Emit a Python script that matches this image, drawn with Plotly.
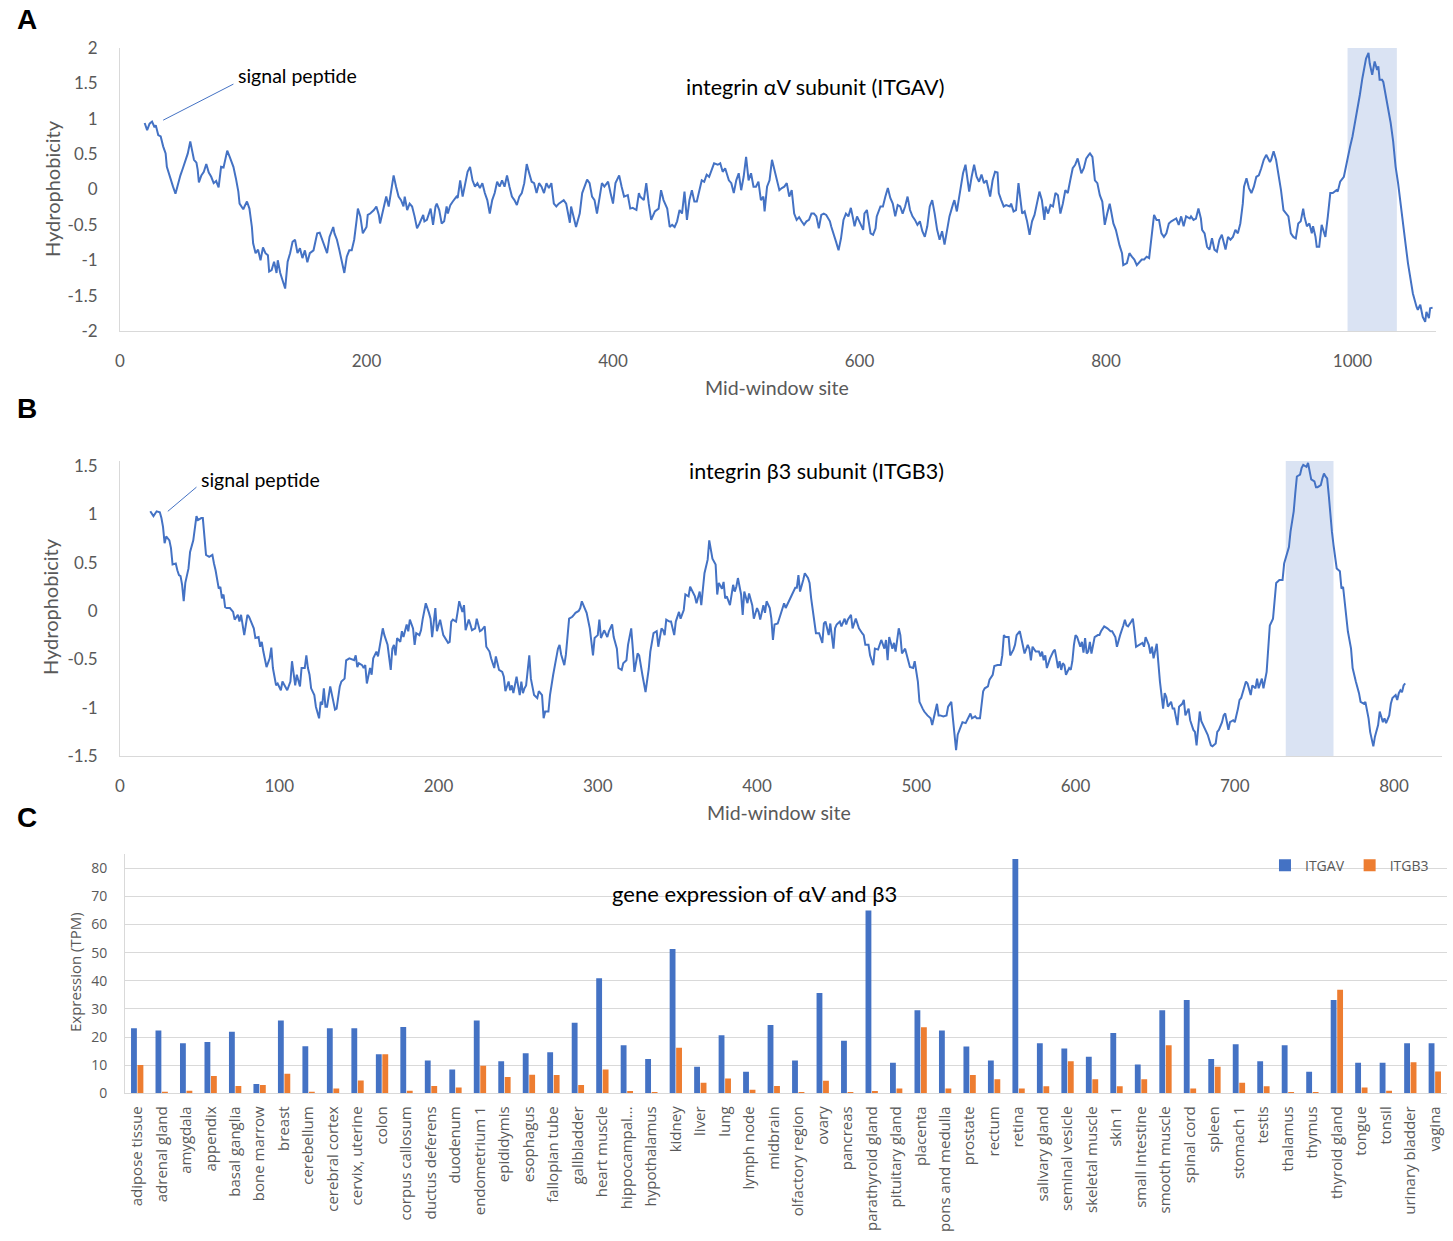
import plotly.graph_objects as go

W, H = 1453, 1241

# ---- Panel A: ITGAV hydrophobicity (mid-window site, value) ----
itgav_profile = [
    (20, 0.94), (22, 0.84), (24, 0.93), (26, 0.96), (28, 0.88), (29, 0.91), (31, 0.77), (33, 0.75),
    (35, 0.61), (37, 0.51), (38, 0.32), (41, 0.13), (43, 0.04), (45, -0.06), (47, 0.09), (49, 0.20),
    (51, 0.30), (54, 0.46), (55, 0.51), (57, 0.68), (60, 0.42), (62, 0.38), (63, 0.28), (64, 0.10),
    (66, 0.20), (68, 0.25), (70, 0.36), (72, 0.24), (74, 0.18), (76, 0.09), (78, 0.12), (80, 0.03),
    (82, 0.32), (84, 0.31), (87, 0.55), (89, 0.46), (92, 0.32), (94, 0.16), (96, -0.03), (97, -0.20),
    (100, -0.28), (101, -0.24), (103, -0.17), (105, -0.27), (107, -0.53), (108, -0.76), (110, -0.90),
    (112, -0.85), (114, -1.00), (116, -0.82), (118, -0.90), (120, -0.93), (121, -1.16), (123, -1.14),
    (125, -1.02), (127, -1.18), (128, -1.00), (130, -1.18), (132, -1.28), (134, -1.40), (136, -1.02),
    (138, -0.90), (140, -0.74), (142, -0.71), (144, -0.90), (146, -0.83), (148, -0.97), (150, -0.86),
    (152, -1.03), (154, -0.90), (157, -0.86), (160, -0.62), (162, -0.61), (164, -0.71), (166, -0.81),
    (168, -0.90), (170, -0.67), (173, -0.53), (174, -0.62), (176, -0.71), (178, -0.86), (180, -1.04),
    (182, -1.18), (184, -0.95), (186, -0.86), (188, -0.86), (190, -0.71), (192, -0.43), (193, -0.27),
    (195, -0.38), (197, -0.62), (200, -0.53), (201, -0.36), (203, -0.34), (206, -0.29), (208, -0.24),
    (210, -0.36), (211, -0.48), (214, -0.27), (216, -0.10), (218, -0.24), (220, -0.03), (222, 0.20),
    (224, 0.04), (226, -0.10), (228, -0.15), (230, -0.24), (231, -0.10), (233, -0.29), (235, -0.20),
    (237, -0.24), (239, -0.38), (241, -0.55), (243, -0.48), (246, -0.36), (247, -0.45), (249, -0.43),
    (252, -0.27), (254, -0.50), (256, -0.24), (257, -0.20), (259, -0.29), (261, -0.48), (263, -0.45),
    (265, -0.24), (266, -0.34), (268, -0.22), (270, -0.17), (273, -0.10), (274, -0.12), (276, 0.13),
    (278, -0.10), (280, 0.09), (282, 0.25), (284, 0.32), (286, 0.13), (288, 0.04), (290, 0.09),
    (292, 0.02), (294, 0.09), (296, -0.05), (298, -0.15), (300, -0.34), (302, -0.15), (304, -0.05),
    (306, 0.11), (308, 0.04), (310, 0.13), (312, 0.04), (314, 0.20), (316, 0.04), (318, -0.10),
    (320, -0.15), (322, -0.22), (324, -0.10), (326, -0.05), (328, 0.09), (330, 0.36), (332, 0.23),
    (334, 0.11), (336, 0.09), (338, -0.05), (340, 0.09), (342, 0.04), (344, -0.05), (346, 0.09),
    (348, 0.02), (350, 0.09), (352, -0.20), (354, -0.24), (356, -0.20),
    (360, -0.15), (362, -0.20), (365, -0.47), (366, -0.24), (368, -0.38), (370, -0.53), (373, -0.34),
    (375, -0.05), (379, 0.14), (381, 0.09), (383, -0.10), (385, -0.15), (387, -0.34), (389, -0.10),
    (391, 0.09), (393, 0.04), (396, 0.11), (398, -0.05), (400, -0.20), (402, 0.09), (405, 0.20),
    (407, 0.04), (409, -0.10), (412, -0.08), (414, -0.27), (416, -0.26), (419, -0.29), (421, -0.05),
    (422, -0.10), (425, -0.15), (427, 0.09), (429, -0.20), (431, -0.43), (434, -0.31), (437, -0.27),
    (439, -0.01), (441, -0.15), (444, -0.27), (446, -0.53), (448, -0.50), (450, -0.53), (452, -0.45),
    (454, -0.29), (456, -0.34), (458, -0.03), (460, -0.43), (462, -0.15), (464, -0.01), (466, -0.17),
    (468, -0.17), (470, -0.01), (472, 0.13), (474, 0.11), (476, 0.21), (478, 0.18), (480, 0.27),
    (482, 0.37), (485, 0.35), (487, 0.37), (489, 0.25), (491, 0.30), (494, 0.13), (496, 0.09),
    (498, -0.05), (500, 0.13), (502, 0.23), (504, -0.01), (506, 0.18), (508, 0.46), (510, 0.13),
    (512, 0.23), (514, 0.04), (516, 0.04), (518, 0.11), (520, -0.15), (522, -0.10), (523, -0.31),
    (525, 0.04), (527, 0.13), (529, 0.42), (531, 0.28), (533, 0.13), (535, -0.01), (537, 0.02),
    (539, 0.04), (541, 0.09), (543, -0.10), (545, -0.01), (547, -0.34), (549, -0.43), (551, -0.39),
    (553, -0.45), (555, -0.50), (557, -0.45), (559, -0.43), (561, -0.34), (563, -0.34), (565, -0.38),
    (567, -0.55), (569, -0.36), (571, -0.34), (573, -0.36), (576, -0.45), (577, -0.52), (579, -0.62),
    (581, -0.74), (583, -0.86), (585, -0.69), (587, -0.43), (589, -0.34), (591, -0.38), (593, -0.26),
    (595, -0.43), (596, -0.52), (598, -0.38), (600, -0.45), (603, -0.57), (604, -0.34), (606, -0.29),
    (609, -0.62), (611, -0.64), (613, -0.55), (614, -0.38), (617, -0.24), (619, -0.24), (621, -0.10),
    (623, 0.02), (625, -0.12), (627, -0.20), (629, -0.38), (631, -0.22), (633, -0.24), (635, -0.34),
    (637, -0.24), (639, -0.10), (641, -0.29), (643, -0.38), (645, -0.43), (647, -0.50), (649, -0.45),
    (651, -0.59), (653, -0.67), (655, -0.52), (657, -0.24), (659, -0.15), (661, -0.34), (663, -0.57),
    (665, -0.71), (667, -0.59), (669, -0.78), (671, -0.57), (673, -0.38), (676, -0.20), (677, -0.15),
    (679, -0.31), (682, 0.01), (684, 0.23), (686, 0.35), (687, 0.23), (689, -0.03), (691, 0.18),
    (693, 0.35), (695, 0.18), (697, 0.11), (699, 0.21), (701, 0.09), (703, 0.13), (705, -0.03),
    (706, -0.10), (708, 0.13), (710, 0.25), (712, 0.24), (713, -0.05), (715, -0.15), (717, -0.24),
    (719, -0.22), (722, -0.24), (723, -0.20), (725, -0.31), (727, -0.29), (729, 0.09), (731, -0.20),
    (732, -0.34), (734, -0.31), (736, -0.45), (738, -0.64), (740, -0.45), (742, -0.36), (744, -0.20),
    (746, -0.03), (748, -0.15), (750, -0.43), (751, -0.24), (753, -0.34), (755, -0.22), (757, -0.24),
    (759, -0.05), (761, -0.08), (763, -0.34), (765, -0.20), (767, -0.01), (769, -0.05), (771, 0.13),
    (773, 0.30), (775, 0.35), (777, 0.44), (778, 0.37), (780, 0.23), (782, 0.30), (784, 0.44),
    (786, 0.49), (787, 0.51), (789, 0.46), (791, 0.13), (793, 0.09), (795, -0.08), (797, -0.17),
    (799, -0.50), (801, -0.34), (803, -0.20), (804, -0.29), (806, -0.48), (808, -0.57), (810, -0.74),
    (811, -0.79), (813, -0.90), (814, -1.07), (817, -1.04), (819, -0.90), (821, -0.95), (823, -0.99),
    (825, -1.07), (827, -1.03), (829, -0.99), (831, -0.99), (833, -0.95), (835, -0.97), (837, -0.67),
    (839, -0.36), (841, -0.43), (843, -0.43), (845, -0.62), (847, -0.67), (849, -0.62), (851, -0.48),
    (853, -0.45), (855, -0.43), (857, -0.41), (859, -0.50), (861, -0.38), (863, -0.52), (865, -0.38),
    (868, -0.41), (869, -0.38), (871, -0.43), (873, -0.41), (875, -0.27), (877, -0.41), (878, -0.57),
    (880, -0.62), (882, -0.81), (884, -0.85), (886, -0.69), (888, -0.85), (890, -0.88), (892, -0.71),
    (894, -0.64), (896, -0.76), (897, -0.85), (899, -0.67), (901, -0.71), (903, -0.67), (905, -0.57),
    (907, -0.62), (909, -0.48), (911, -0.20), (912, 0.04), (914, 0.16), (916, 0.02), (918, -0.05),
    (920, 0.04), (922, 0.18), (924, 0.20), (926, 0.30), (928, 0.42), (930, 0.49), (933, 0.39),
    (934, 0.42), (936, 0.54), (938, 0.42), (940, 0.23), (942, -0.01), (944, -0.29), (946, -0.34),
    (948, -0.38), (950, -0.62), (952, -0.67), (954, -0.69), (956, -0.48), (958, -0.45), (960, -0.27),
    (961, -0.38), (963, -0.52), (965, -0.48), (967, -0.62), (968, -0.52), (970, -0.67), (971, -0.81),
    (973, -0.81), (975, -0.50), (977, -0.64), (978, -0.67), (980, -0.38), (982, -0.05), (984, -0.05),
    (987, -0.01), (988, -0.03), (990, 0.11), (993, 0.18), (994, 0.27), (996, 0.42), (998, 0.60),
    (1000, 0.75), (1002, 0.94), (1004, 1.15), (1006, 1.34), (1008, 1.57), (1010, 1.76), (1011, 1.85),
    (1013, 1.93), (1014, 1.78), (1016, 1.62), (1017, 1.74), (1018, 1.81), (1020, 1.69), (1021, 1.74),
    (1022, 1.55), (1024, 1.55), (1025, 1.52), (1027, 1.34), (1029, 1.15), (1031, 0.94), (1033, 0.68),
    (1035, 0.32), (1037, 0.09), (1039, -0.17), (1041, -0.45), (1043, -0.76), (1045, -1.04),
    (1047, -1.23), (1049, -1.47), (1052, -1.66), (1053, -1.70), (1055, -1.63), (1056, -1.70),
    (1057, -1.80), (1059, -1.87), (1060, -1.73), (1062, -1.82), (1063, -1.68), (1065, -1.67),
]
itgav_tm = (996, 1036)

# ---- Panel B: ITGB3 hydrophobicity ----
itgb3_profile = [
    (19, 1.03), (21, 0.98), (23, 1.03), (25, 1.02), (26, 0.96), (27, 0.87), (28, 0.70), (29, 0.77),
    (31, 0.73), (32, 0.65), (33, 0.48), (35, 0.49), (36, 0.42), (37, 0.37), (38, 0.36), (39, 0.27),
    (40, 0.10), (41, 0.29), (43, 0.44), (44, 0.61), (46, 0.73), (48, 0.98), (49, 0.94), (51, 0.96),
    (52, 0.96), (53, 0.75), (54, 0.58), (56, 0.56), (58, 0.58), (59, 0.49), (60, 0.42), (62, 0.23),
    (63, 0.25), (64, 0.13), (65, 0.17), (66, 0.04), (67, 0.03), (69, 0.03), (71, -0.01), (72, -0.09),
    (74, -0.04), (75, -0.11), (76, -0.04), (78, -0.25), (80, -0.04), (81, -0.06), (83, -0.14),
    (84, -0.18), (85, -0.28), (87, -0.27), (88, -0.37), (89, -0.32), (90, -0.42), (92, -0.58),
    (94, -0.49), (95, -0.38), (96, -0.59), (98, -0.77), (99, -0.75), (101, -0.82), (102, -0.73),
    (104, -0.80), (105, -0.82), (107, -0.73), (108, -0.52), (110, -0.77), (111, -0.66), (113, -0.78),
    (114, -0.59), (116, -0.59), (117, -0.46), (118, -0.59), (119, -0.66), (120, -0.80), (122, -0.87),
    (123, -0.99), (125, -1.11), (126, -0.94), (127, -0.97), (128, -0.80), (129, -0.99), (130, -0.99),
    (131, -0.87), (132, -0.78), (134, -0.94), (135, -1.02), (136, -1.01), (138, -0.78), (139, -0.73),
    (141, -0.70), (142, -0.51), (144, -0.49), (147, -0.51), (148, -0.46), (149, -0.58), (150, -0.54),
    (152, -0.56), (153, -0.59), (154, -0.56), (155, -0.75), (157, -0.59), (158, -0.66), (159, -0.49),
    (161, -0.42), (162, -0.47), (164, -0.27), (165, -0.18), (166, -0.25), (168, -0.35), (170, -0.61),
    (171, -0.39), (172, -0.35), (173, -0.46), (174, -0.28), (176, -0.32), (177, -0.21), (178, -0.27),
    (180, -0.14), (181, -0.21), (182, -0.09), (184, -0.18), (185, -0.35), (186, -0.23), (188, -0.25),
    (189, -0.20), (190, -0.09), (192, 0.08), (194, -0.02), (195, -0.08), (196, -0.27), (198, 0.03),
    (199, -0.21), (200, -0.14), (201, -0.09), (203, -0.25), (204, -0.28), (206, -0.33), (207, -0.32),
    (208, -0.11), (209, -0.09), (211, -0.11), (212, -0.01), (213, 0.10), (215, -0.01), (216, 0.06),
    (217, -0.20), (219, -0.09), (220, -0.14), (221, -0.20), (223, -0.18), (224, -0.08), (226, -0.21),
    (227, -0.20), (229, -0.16), (230, -0.37), (232, -0.42), (233, -0.49), (235, -0.59), (236, -0.47),
    (238, -0.61), (240, -0.63), (241, -0.68), (242, -0.83), (244, -0.73), (245, -0.82), (246, -0.77),
    (247, -0.85), (249, -0.68), (250, -0.80), (251, -0.87), (252, -0.73), (253, -0.85), (254, -0.80),
    (255, -0.77), (257, -0.46), (258, -0.70), (260, -0.87), (262, -0.90), (263, -0.83), (265, -0.87),
    (266, -1.11), (267, -1.04), (269, -1.04), (270, -0.87), (272, -0.66), (273, -0.56), (275, -0.39),
    (276, -0.35), (277, -0.45), (279, -0.56), (280, -0.45), (282, -0.08), (284, -0.06), (285, -0.04),
    (286, -0.02), (288, 0.00), (289, 0.03), (290, 0.10), (292, 0.01), (293, -0.02), (295, -0.18),
    (297, -0.46), (298, -0.28), (300, -0.25), (301, -0.09), (302, -0.28), (304, -0.20), (306, -0.27),
    (307, -0.21), (309, -0.14), (310, -0.27), (312, -0.39), (313, -0.59), (315, -0.61), (316, -0.54),
    (318, -0.51), (319, -0.35), (321, -0.18), (322, -0.39), (323, -0.63), (325, -0.44), (326, -0.46),
    (328, -0.66), (329, -0.77), (330, -0.84), (332, -0.60), (333, -0.42), (335, -0.23), (337, -0.21),
    (338, -0.37), (340, -0.18), (341, -0.20), (342, -0.25), (343, -0.09), (345, -0.11), (346, -0.11),
    (348, -0.25), (349, -0.11), (351, -0.01), (352, -0.08), (354, 0.01), (355, 0.17), (357, 0.15),
    (358, 0.25), (360, 0.17), (361, 0.15), (362, 0.08), (364, 0.20), (365, 0.06), (366, 0.22),
    (367, 0.39), (369, 0.53), (370, 0.73), (372, 0.54), (374, 0.48), (375, 0.17), (376, 0.29),
    (378, 0.23), (379, 0.30), (380, 0.13), (381, 0.15), (383, 0.06), (385, 0.27), (386, 0.20),
    (387, 0.25), (388, 0.34), (390, 0.17), (391, -0.04), (392, 0.20), (394, 0.08), (395, 0.18),
    (397, 0.06), (398, -0.08), (400, 0.03), (401, -0.01), (402, -0.09), (404, 0.06), (405, -0.02),
    (406, 0.10), (408, 0.03), (409, -0.08), (410, -0.30), (411, -0.14), (413, -0.13), (414, -0.08),
    (415, -0.01), (417, 0.08), (418, 0.03), (420, 0.11), (421, 0.15), (422, 0.17), (424, 0.24),
    (425, 0.24), (426, 0.37), (427, 0.20), (429, 0.32), (430, 0.39), (432, 0.34), (433, 0.29),
    (434, 0.13), (436, -0.08), (437, -0.23), (439, -0.23), (441, -0.33), (442, -0.13), (443, -0.11),
    (445, -0.25), (446, -0.13), (448, -0.39), (449, -0.18), (450, -0.14), (452, -0.11), (453, -0.16),
    (455, -0.08), (456, -0.14), (457, -0.09), (459, -0.04), (460, -0.18), (462, -0.08), (463, -0.13),
    (464, -0.18), (466, -0.23), (467, -0.25), (468, -0.35), (470, -0.35), (471, -0.46), (473, -0.56),
    (474, -0.39), (476, -0.40), (477, -0.35), (478, -0.30), (480, -0.39), (481, -0.30), (482, -0.51),
    (483, -0.27), (485, -0.39), (486, -0.33), (487, -0.42), (489, -0.18), (490, -0.25), (491, -0.44),
    (493, -0.39), (494, -0.46), (496, -0.58), (498, -0.59), (499, -0.52), (501, -0.73), (502, -0.94),
    (504, -1.01), (505, -1.04), (507, -1.08), (509, -1.11), (510, -1.18), (512, -1.01), (513, -0.96),
    (514, -1.08), (515, -1.08), (517, -1.09), (519, -1.08), (520, -0.99), (522, -0.94), (523, -1.11),
    (524, -1.25), (525, -1.44), (526, -1.28), (528, -1.18), (529, -1.15), (531, -1.16), (533, -1.09),
    (534, -1.06), (535, -1.11), (537, -1.09), (538, -1.11), (540, -1.11), (542, -0.83), (543, -0.80),
    (545, -0.78), (546, -0.71), (548, -0.66), (549, -0.57), (551, -0.56), (553, -0.56), (554, -0.46),
    (555, -0.25), (556, -0.27), (558, -0.27), (559, -0.46), (561, -0.40), (562, -0.35), (563, -0.25),
    (565, -0.21), (566, -0.28), (567, -0.37), (568, -0.44), (570, -0.35), (571, -0.39), (572, -0.51),
    (573, -0.37), (575, -0.42), (577, -0.42), (578, -0.47), (579, -0.42), (580, -0.51), (581, -0.46),
    (582, -0.59), (583, -0.53), (584, -0.49), (586, -0.42), (587, -0.40), (588, -0.49), (589, -0.59),
    (590, -0.52), (591, -0.61), (592, -0.54), (593, -0.56), (594, -0.66), (596, -0.59), (597, -0.61),
    (598, -0.52), (599, -0.35), (600, -0.25), (601, -0.27), (602, -0.32), (603, -0.37), (604, -0.32),
    (605, -0.43), (606, -0.28), (607, -0.44), (608, -0.42), (609, -0.32), (610, -0.44), (611, -0.35),
    (612, -0.27), (614, -0.25), (615, -0.25), (616, -0.21), (617, -0.18), (618, -0.16), (620, -0.18),
    (622, -0.21), (623, -0.21), (625, -0.27), (626, -0.37), (627, -0.30), (628, -0.25), (630, -0.15),
    (631, -0.09), (632, -0.15), (633, -0.16), (635, -0.11), (636, -0.08), (637, -0.21), (638, -0.37),
    (640, -0.35), (642, -0.33), (643, -0.37), (644, -0.27), (646, -0.35), (647, -0.44), (648, -0.37),
    (649, -0.49), (651, -0.34), (652, -0.56), (653, -0.73), (655, -1.01), (656, -0.85), (657, -0.89),
    (658, -0.99), (660, -0.94), (661, -1.01), (662, -1.01), (664, -1.18), (665, -0.99), (667, -0.96),
    (668, -0.92), (669, -1.08), (671, -1.01), (672, -1.13), (674, -1.23), (675, -1.25), (676, -1.39),
    (677, -1.21), (678, -1.04), (679, -1.14), (681, -1.21), (682, -1.25), (683, -1.28), (685, -1.39),
    (686, -1.40), (688, -1.37), (689, -1.25), (690, -1.23), (692, -1.15), (693, -1.08), (694, -1.06),
    (696, -1.23), (697, -1.15), (699, -1.13), (700, -1.15), (702, -1.01), (703, -0.92), (704, -0.90),
    (706, -0.80), (707, -0.73), (708, -0.75), (710, -0.87), (711, -0.77), (713, -0.80), (714, -0.70),
    (715, -0.80), (717, -0.70), (718, -0.80), (720, -0.63), (721, -0.39), (722, -0.15), (724, -0.08),
    (725, 0.08), (726, 0.29), (728, 0.32), (730, 0.32), (731, 0.49), (732, 0.54), (734, 0.66),
    (735, 0.82), (737, 1.03), (738, 1.22), (739, 1.39), (741, 1.41), (742, 1.48), (743, 1.51),
    (745, 1.49), (746, 1.53), (747, 1.44), (748, 1.36), (750, 1.34), (751, 1.28), (752, 1.28),
    (754, 1.30), (755, 1.37), (756, 1.42), (757, 1.39), (758, 1.37), (759, 1.20), (760, 0.99),
    (761, 0.82), (762, 0.68), (763, 0.58), (764, 0.44), (766, 0.41), (767, 0.23), (768, 0.25),
    (769, 0.10), (770, -0.08), (771, -0.21), (773, -0.39), (774, -0.59), (776, -0.73), (778, -0.85),
    (779, -0.94), (781, -0.96), (782, -0.94), (784, -1.11), (785, -1.25), (787, -1.40), (788, -1.30),
    (790, -1.18), (791, -1.04), (792, -1.09), (793, -1.15), (794, -1.11), (795, -1.16), (797, -1.08),
    (798, -0.96), (799, -0.90), (801, -0.87), (802, -0.92), (803, -0.85), (804, -0.82), (805, -0.84),
    (806, -0.77), (807, -0.75),
]
itgb3_tm = (732, 762)

# ---- Panel C: tissue expression (TPM) ----
tissues = [
    "adipose tissue", "adrenal gland", "amygdala", "appendix", "basal ganglia", "bone marrow",
    "breast", "cerebellum", "cerebral cortex", "cervix, uterine", "colon", "corpus callosum",
    "ductus deferens", "duodenum", "endometrium 1", "epididymis", "esophagus", "fallopian tube",
    "gallbladder", "heart muscle", "hippocampal...", "hypothalamus", "kidney", "liver", "lung",
    "lymph node", "midbrain", "olfactory region", "ovary", "pancreas", "parathyroid gland",
    "pituitary gland", "placenta", "pons and medulla", "prostate", "rectum", "retina",
    "salivary gland", "seminal vesicle", "skeletal muscle", "skin 1", "small intestine",
    "smooth muscle", "spinal cord", "spleen", "stomach 1", "testis", "thalamus", "thymus",
    "thyroid gland", "tongue", "tonsil", "urinary bladder", "vagina",
]
itgav_tpm = [
    23.1, 22.3, 17.8, 18.2, 21.9, 3.3, 25.9, 16.7, 23.1, 23.1, 13.9, 23.6, 11.7, 8.5, 25.9, 11.4,
    14.2, 14.6, 25.1, 40.9, 17.1, 12.2, 51.3, 9.4, 20.6, 7.7, 24.3, 11.7, 35.7, 18.7, 65.0, 10.9,
    29.5, 22.3, 16.6, 11.7, 83.3, 17.8, 15.9, 13.0, 21.4, 10.2, 29.5, 33.2, 12.2, 17.4, 11.4, 17.1,
    7.7, 33.2, 10.9, 10.9, 17.8, 17.8,
]
itgb3_tpm = [
    10.1, 0.6, 0.9, 6.2, 2.6, 3.0, 7.0, 0.6, 1.7, 4.6, 13.9, 0.9, 2.6, 2.1, 9.8, 5.8,
    6.6, 6.5, 3.0, 8.5, 0.8, 0.5, 16.2, 3.8, 5.3, 1.3, 2.6, 0.5, 4.5, 0.5, 0.8, 1.7,
    23.5, 1.7, 6.5, 5.0, 1.7, 2.5, 11.4, 5.0, 2.5, 5.0, 17.1, 1.7, 9.4, 3.8, 2.5, 0.5,
    0.5, 36.8, 2.1, 0.9, 11.0, 7.8,
]

hyd_ticks_a = [-2, -1.5, -1, -0.5, 0, 0.5, 1, 1.5, 2]
hyd_ticks_b = [-1.5, -1, -0.5, 0, 0.5, 1, 1.5]

BLUE = "#4472C4"
ORANGE = "#ED7D31"
SHADE = "#dae3f3"
GREY_TXT = "#595959"
AXIS = "#d9d9d9"
FONT = "Lato, Open Sans, sans-serif"
FONT_C = "Open Sans, sans-serif"

fig = go.Figure()

fig.add_trace(go.Scatter(x=[p[0] for p in itgav_profile], y=[p[1] for p in itgav_profile],
                         mode="lines", line=dict(color=BLUE, width=2), showlegend=False,
                         xaxis="x", yaxis="y"))
fig.add_trace(go.Scatter(x=[p[0] for p in itgb3_profile], y=[p[1] for p in itgb3_profile],
                         mode="lines", line=dict(color=BLUE, width=2), showlegend=False,
                         xaxis="x2", yaxis="y2"))
fig.add_trace(go.Bar(x=tissues, y=itgav_tpm, name="ITGAV", marker_color=BLUE,
                     xaxis="x3", yaxis="y3"))
fig.add_trace(go.Bar(x=tissues, y=itgb3_tpm, name="ITGB3", marker_color=ORANGE,
                     xaxis="x3", yaxis="y3"))


def fmt(v):
    return ("%g" % v)


hyd_axis = dict(showline=True, linecolor=AXIS, linewidth=1, showgrid=False, zeroline=False,
                ticks="outside", tickcolor="rgba(0,0,0,0)", automargin=False,
                tickfont=dict(family=FONT, size=17, color=GREY_TXT))

fig.update_layout(
    template="none",
    width=W, height=H, margin=dict(l=0, r=0, t=0, b=0, pad=0), autosize=False,
    paper_bgcolor="white", plot_bgcolor="white",
    barmode="group", bargap=0.47, bargroupgap=0.1,
    xaxis=dict(domain=[0.0826, 0.9885], range=[0, 1068], tickvals=[0, 200, 400, 600, 800, 1000],
               anchor="y", ticklen=15, **hyd_axis),
    yaxis=dict(domain=[0.7333, 0.9613], range=[-2, 2], tickvals=hyd_ticks_a,
               ticktext=[fmt(v) for v in hyd_ticks_a], anchor="x", ticklen=18, **hyd_axis),
    xaxis2=dict(domain=[0.0826, 0.9923], range=[0, 830],
                tickvals=[0, 100, 200, 300, 400, 500, 600, 700, 800],
                anchor="y2", ticklen=15, **hyd_axis),
    yaxis2=dict(domain=[0.3908, 0.6285], range=[-1.5, 1.55], tickvals=hyd_ticks_b,
                ticktext=[fmt(v) for v in hyd_ticks_b], anchor="x2", ticklen=18, **hyd_axis),
    xaxis3=dict(domain=[0.0860, 0.9959], range=[-0.5, 53.5], type="category", anchor="y3",
                showline=True, linecolor=AXIS, showgrid=False, tickangle=-90, automargin=False,
                ticks="outside", tickcolor="rgba(0,0,0,0)", ticklen=6,
                tickfont=dict(family=FONT_C, size=15, color=GREY_TXT)),
    yaxis3=dict(domain=[0.1190, 0.3117], range=[0, 85], tickvals=[0, 10, 20, 30, 40, 50, 60, 70, 80],
                anchor="x3", showline=True, linecolor=AXIS, showgrid=True, gridcolor=AXIS,
                zeroline=False, ticks="outside", tickcolor="rgba(0,0,0,0)", ticklen=14,
                automargin=False, tickfont=dict(family=FONT_C, size=14, color=GREY_TXT)),
    legend=dict(orientation="h", x=0.8706, y=0.3024, xanchor="left", yanchor="middle",
                font=dict(family=FONT_C, size=14, color=GREY_TXT), bgcolor="rgba(0,0,0,0)",
                itemwidth=30, tracegroupgap=0),
)

# transmembrane highlight bands
fig.add_shape(type="rect", xref="x", yref="y", x0=itgav_tm[0], x1=itgav_tm[1], y0=-2, y1=2,
              fillcolor=SHADE, line_width=0, layer="below")
fig.add_shape(type="rect", xref="x2", yref="y2", x0=itgb3_tm[0], x1=itgb3_tm[1], y0=-1.5, y1=1.55,
              fillcolor=SHADE, line_width=0, layer="below")

# signal peptide leader lines
fig.add_shape(type="line", xref="x", yref="y", x0=35, y0=0.98, x1=92, y1=1.49,
              line=dict(color=BLUE, width=1))
fig.add_shape(type="line", xref="x2", yref="y2", x0=30, y0=1.03, x1=48, y1=1.28,
              line=dict(color=BLUE, width=1))

notes = [
    dict(text="<b>A</b>", x=27, y=20, size=28, family="Liberation Sans, Arial", color="black"),
    dict(text="<b>B</b>", x=27, y=408, size=28, family="Liberation Sans, Arial", color="black"),
    dict(text="<b>C</b>", x=27, y=817, size=28, family="Liberation Sans, Arial", color="black"),
    dict(text="integrin αV subunit (ITGAV)", x=815, y=87, size=21.5, family=FONT, color="black"),
    dict(text="integrin β3 subunit (ITGB3)", x=816, y=471, size=21.5, family=FONT, color="black"),
    dict(text="gene expression of αV and β3", x=754, y=893, size=22, family=FONT, color="black"),
    dict(text="signal peptide", x=297, y=75, size=19.5, family=FONT, color="black"),
    dict(text="signal peptide", x=260, y=479, size=19.5, family=FONT, color="black"),
    dict(text="Mid-window site", x=777, y=388, size=19.5, family=FONT, color=GREY_TXT),
    dict(text="Mid-window site", x=779, y=813, size=19.5, family=FONT, color=GREY_TXT),
    dict(text="Hydrophobicity", x=52, y=189, size=20, family=FONT, color=GREY_TXT, angle=-90),
    dict(text="Hydrophobicity", x=50, y=607, size=20, family=FONT, color=GREY_TXT, angle=-90),
    dict(text="Expression (TPM)", x=75, y=972, size=15, family=FONT_C, color=GREY_TXT, angle=-90),
]
for n in notes:
    fig.add_annotation(text=n["text"], x=n["x"] / W, y=1 - n["y"] / H, xref="paper", yref="paper",
                       xanchor="center", yanchor="middle", showarrow=False,
                       textangle=n.get("angle", 0),
                       font=dict(family=n["family"], size=n["size"], color=n["color"]))

# the page's default body margin would push the figure 8px off the canvas
fig.write_html("out.html", config={"displayModeBar": False},
               post_script="document.body.style.margin='0';")
